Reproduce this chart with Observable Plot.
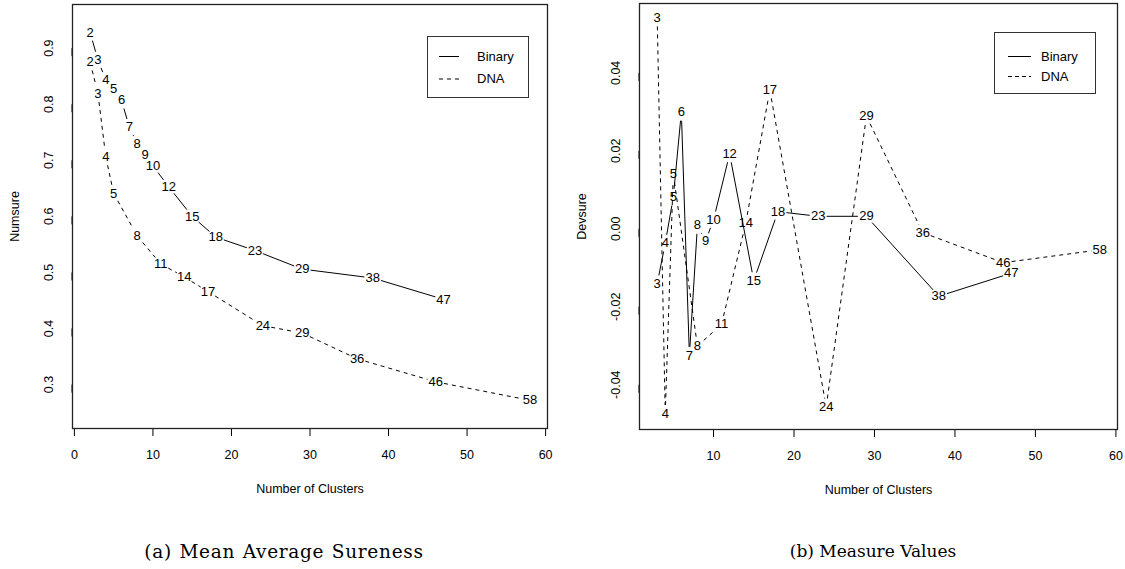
<!DOCTYPE html>
<html><head><meta charset="utf-8">
<script src="https://cdn.jsdelivr.net/npm/d3@7"></script>
<script src="https://cdn.jsdelivr.net/npm/@observablehq/plot@0.6"></script>
<style>
body{margin:0;background:#fff;}
#wrap{position:relative;width:1125px;height:569px;overflow:hidden;}
#left{position:absolute;left:0;top:0;}
#right{position:absolute;left:560px;top:0;}
.legend{position:absolute;border:1px solid #333;background:#fff;font:13px "Liberation Sans",Arial,sans-serif;color:#000;}
.legend svg{position:absolute;left:0;top:0;}
.legend span{position:absolute;line-height:14px;}
.caption{position:absolute;font-family:"DejaVu Serif",serif;font-size:17px;transform:translate(-50%,-50%);white-space:nowrap;color:#000;}
</style></head>
<body>
<div id="wrap">
  <div id="left"></div>
  <div id="right"></div>
  <div class="legend" id="legL" style="left:427px;top:36px;width:100px;height:60px;">
    <svg width="100" height="60"><line x1="11" x2="31" y1="19.5" y2="19.5" stroke="#000"/><line x1="11" x2="31" y1="42" y2="42" stroke="#000" stroke-dasharray="4,4"/></svg>
    <span style="left:49px;top:12.5px">Binary</span><span style="left:49px;top:35px">DNA</span>
  </div>
  <div class="legend" id="legR" style="left:994px;top:32px;width:100px;height:60px;">
    <svg width="100" height="60"><line x1="13" x2="36" y1="23.5" y2="23.5" stroke="#000"/><line x1="13" x2="36" y1="43.5" y2="43.5" stroke="#000" stroke-dasharray="4,3"/></svg>
    <span style="left:46px;top:16.5px">Binary</span><span style="left:46px;top:36.5px">DNA</span>
  </div>
  <div class="caption" style="left:284px;top:551px;font-size:18.5px;letter-spacing:0.7px;word-spacing:1px">(a) Mean Average Sureness</div>
  <div class="caption" style="left:873px;top:551px">(b) Measure Values</div>
</div>
<script>
// ---- Data: (a) Mean Average Sureness (Numsure) ----
const aBinaryClusters = [2,3,4,5,6,7,8,9,10,12,15,18,23,29,38,47];
const aBinaryNumsure  = [0.928,0.879,0.843,0.828,0.807,0.759,0.730,0.709,0.690,0.653,0.600,0.563,0.539,0.506,0.490,0.452];
const aDnaClusters    = [2,3,4,5,8,11,14,17,24,29,36,46,58];
const aDnaNumsure     = [0.875,0.819,0.706,0.641,0.565,0.515,0.492,0.466,0.405,0.392,0.346,0.305,0.272];

// ---- Data: (b) Measure Values (Devsure) ----
const bBinaryClusters = [3,4,5,6,7,8,9,10,12,15,18,23,29,38,47];
const bBinaryDevsure  = [-0.0141,-0.0037,0.0081,0.0299,-0.0325,0.0009,-0.0032,0.0023,0.0192,-0.0133,0.0044,0.0032,0.0032,-0.0173,-0.0114];
const bDnaClusters    = [3,4,5,8,11,14,17,24,29,36,46,58];
const bDnaDevsure     = [0.0541,-0.0474,0.0141,-0.0301,-0.0245,0.0014,0.0356,-0.0457,0.0289,-0.0010,-0.0087,-0.0054];

// ---- Tick labels ----
const aXTicks = [0,10,20,30,40,50,60];
const aYTicks = [0.3,0.4,0.5,0.6,0.7,0.8,0.9];
const bXTicks = [10,20,30,40,50,60];
const bYTicks = [-0.04,-0.02,0,0.02,0.04];

const toRows = (K, V) => K.map((k, i) => ({k, v: V[i]}));

// R type="c": each segment between consecutive points is shortened at both ends,
// leaving a gap of radius r (pixels) around the plotted label; computed through Plot's scales.
function gapSegments(rows, xs, ys, r) {
  const segs = [];
  for (let i = 0; i < rows.length - 1; i++) {
    const a = rows[i], b = rows[i + 1];
    const px = xs.apply(a.k), py = ys.apply(a.v), qx = xs.apply(b.k), qy = ys.apply(b.v);
    const dx = qx - px, dy = qy - py, len = Math.hypot(dx, dy);
    if (len <= 2 * r) continue;
    const ux = dx / len, uy = dy / len;
    segs.push({
      x1: xs.invert(px + ux * r), y1: ys.invert(py + uy * r),
      x2: xs.invert(qx - ux * r), y2: ys.invert(qy - uy * r)
    });
  }
  return segs;
}

const font = {fontFamily: "'Liberation Sans', Arial, sans-serif", fontSize: "12.5px", color: "#000", background: "#fff", overflow: "visible"};

function panel({width, marginLeft, marginRight, marginTop, marginBottom, xDomain, yDomain, xTicks, yTicks, yFmt, yLabel, binary, dna}) {
  const height = 500;
  const xs = Plot.scale({x: {domain: xDomain, range: [marginLeft, width - marginRight]}});
  const ys = Plot.scale({y: {domain: yDomain, range: [height - marginBottom, marginTop]}});
  const gap = 8.5;
  return Plot.plot({
    width, height, marginLeft, marginRight, marginTop, marginBottom,
    style: font,
    x: {domain: xDomain},
    y: {domain: yDomain},
    marks: [
      Plot.axisX({ticks: xTicks, tickSize: 8, tickPadding: 14, fontSize: 12.5, tickFormat: d => String(d),
        label: "Number of Clusters", labelAnchor: "center", labelArrow: "none", labelOffset: 64}),
      Plot.axisY({ticks: yTicks, tickSize: 8, tickPadding: 16, fontSize: 12.5, tickFormat: yFmt,
        rotate: -90, textAnchor: "middle",
        label: yLabel, labelAnchor: "center", labelArrow: "none", labelOffset: 62}),
      Plot.link(gapSegments(binary, xs, ys, gap), {x1: "x1", y1: "y1", x2: "x2", y2: "y2", stroke: "#000", strokeWidth: 1}),
      Plot.link(gapSegments(dna, xs, ys, gap), {x1: "x1", y1: "y1", x2: "x2", y2: "y2", stroke: "#000", strokeWidth: 1, strokeDasharray: "4,4"}),
      Plot.text(binary, {x: "k", y: "v", text: d => String(d.k), fontSize: 13, fill: "#000"}),
      Plot.text(dna, {x: "k", y: "v", text: d => String(d.k), fontSize: 13, fill: "#000"}),
      Plot.frame({stroke: "#222", strokeWidth: 1.3})
    ]
  });
}

document.getElementById("left").appendChild(panel({
  width: 560, marginLeft: 72, marginRight: 13, marginTop: 4, marginBottom: 72,
  xDomain: [-0.24, 60.24], yDomain: [0.2217, 0.9778],
  xTicks: aXTicks, yTicks: aYTicks, yFmt: d => d.toFixed(1), yLabel: "Numsure",
  binary: toRows(aBinaryClusters, aBinaryNumsure), dna: toRows(aDnaClusters, aDnaNumsure)
}));

document.getElementById("right").appendChild(panel({
  width: 565, marginLeft: 79, marginRight: 8, marginTop: 3, marginBottom: 71,
  xDomain: [0.8, 60.2], yDomain: [-0.0515, 0.0578],
  xTicks: bXTicks, yTicks: bYTicks, yFmt: d => d.toFixed(2), yLabel: "Devsure",
  binary: toRows(bBinaryClusters, bBinaryDevsure), dna: toRows(bDnaClusters, bDnaDevsure)
}));
</script>
</body></html>
